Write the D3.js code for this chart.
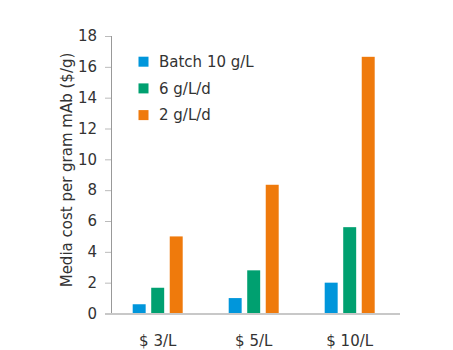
<!DOCTYPE html>
<html><head><meta charset="utf-8">
<script src="https://cdn.jsdelivr.net/npm/d3@7"></script>
<style>body{margin:0;background:#fff}svg{display:block}text{font-family:"DejaVu Sans",Verdana,sans-serif;fill:#333}</style>
</head><body><svg id="c" width="453" height="350"></svg>
<script>
const categories = ["$ 3/L", "$ 5/L", "$ 10/L"];
const seriesNames = ["Batch 10 g/L", "6 g/L/d", "2 g/L/d"];
const batch = [0.6, 1.0, 2.0];
const g6 = [1.67, 2.8, 5.6];
const g2 = [5.0, 8.35, 16.65];
const yTicks = [0, 2, 4, 6, 8, 10, 12, 14, 16, 18];
const colors = ["#0096db", "#00a070", "#ef7a0c"];
const series = [batch, g6, g2];

const svg = d3.select("#c");
const y = d3.scaleLinear().domain([0, 18]).range([313.5, 36]);
const x = d3.scaleBand().domain(categories).range([109.7, 397.7]).paddingInner(0).paddingOuter(0);
const xs = d3.scaleBand().domain(seriesNames).range([0, 50]).paddingInner(0.3).paddingOuter(0);

// y axis
const yAxis = d3.axisLeft(y).tickValues(yTicks).tickSize(6).tickPadding(8);
const gy = svg.append("g").attr("transform", "translate(111,0)").call(yAxis);
gy.select(".domain").attr("stroke", "#999").attr("d", "M0.5,36V313.5");
gy.selectAll(".tick line").attr("stroke", "#bbb");
gy.selectAll(".tick text").style("font-size", "15px").attr("fill", "#333");

// bars
categories.forEach((c, i) => {
  series.forEach((s, j) => {
    svg.append("rect")
      .attr("x", x(c) + (x.bandwidth() - 50) / 2 + xs(seriesNames[j]))
      .attr("width", xs.bandwidth())
      .attr("y", y(s[i]))
      .attr("height", y(0) - y(s[i]))
      .attr("fill", colors[j]);
  });
});

// baseline
svg.append("line").attr("x1", 105).attr("x2", 400).attr("y1", y(0) + 0.5).attr("y2", y(0) + 0.5)
  .attr("stroke", "#c8c8c8").attr("stroke-width", 2);

// x labels
const xAxis = d3.axisBottom(x).tickSize(0).tickPadding(0);
const gx = svg.append("g").attr("transform", "translate(0,336)").call(xAxis);
gx.select(".domain").remove();
gx.selectAll(".tick text").style("font-size", "15px").attr("fill", "#333").attr("dy", "0.35em").attr("y", 5);

// y label
svg.append("text").attr("transform", "translate(66.5,170) rotate(-90)").attr("text-anchor", "middle")
  .attr("dy", "0.35em").style("font-size", "15px").text("Media cost per gram mAb ($/g)");

// legend
const lg = svg.append("g");
seriesNames.forEach((n, j) => {
  const cy = 61.7 + j * 26.7;
  lg.append("rect").attr("x", 138.5).attr("y", cy - 5).attr("width", 10).attr("height", 10).attr("fill", colors[j]);
  lg.append("text").attr("x", 159).attr("y", cy).attr("dy", "0.35em").style("font-size", "15px").text(n);
});
</script></body></html>
